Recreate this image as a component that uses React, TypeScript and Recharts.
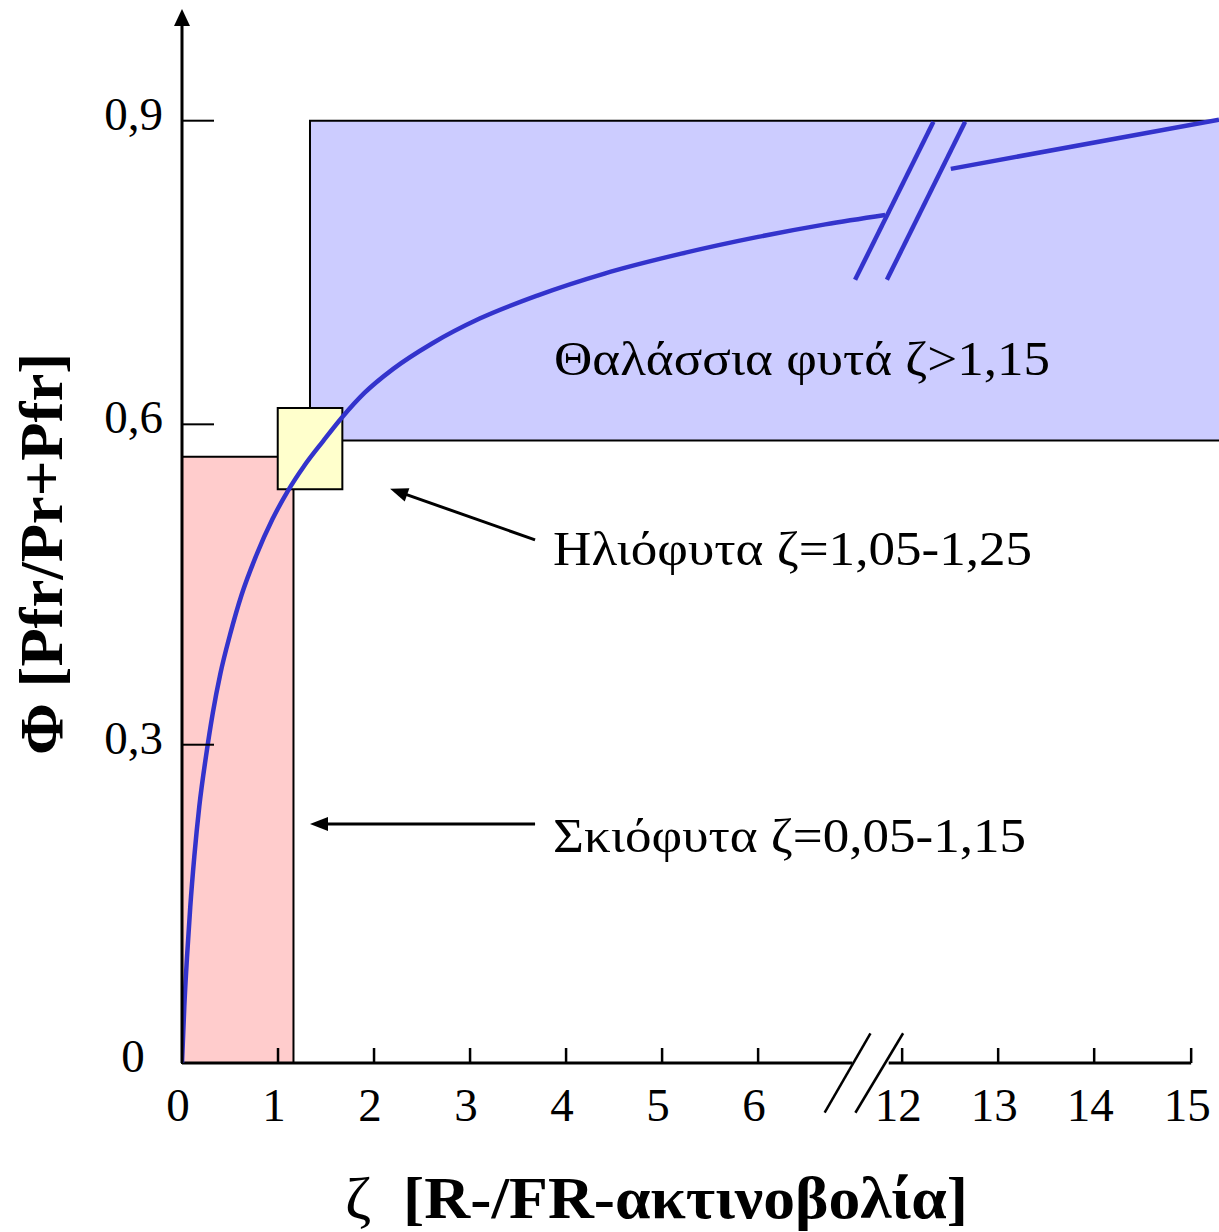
import React from 'react';
import {
  ComposedChart,
  Line,
  XAxis,
  YAxis,
  ReferenceArea,
  ReferenceLine,
  ReferenceDot,
} from 'recharts';

// Horizontal drawing units: 0..6 -> ζ 0..6, then an axis break, 7.5..10.51 -> ζ 12..15
const xTickValues = [0, 1, 2, 3, 4, 5, 6, 7.5, 8.5, 9.5, 10.51];
const xTickLabels = ['0', '1', '2', '3', '4', '5', '6', '12', '13', '14', '15'];
const yTickValues = [0, 0.304, 0.61, 0.9];
const yTickLabels = ['0', '0,3', '0,6', '0,9'];

// Φ curve, left of the break
const curveX = [0, 0.024, 0.052, 0.086, 0.128, 0.18, 0.25, 0.32, 0.4, 0.5, 0.62, 0.77, 0.94, 1.1, 1.27, 1.47, 1.67, 1.9, 2.2, 2.6, 3.1, 3.7, 4.4, 5.2, 6.0, 6.7, 7.323];
const curveY = [0, 0.054, 0.101, 0.149, 0.197, 0.245, 0.293, 0.334, 0.372, 0.409, 0.447, 0.484, 0.519, 0.546, 0.57, 0.594, 0.617, 0.64, 0.663, 0.687, 0.711, 0.733, 0.754, 0.773, 0.789, 0.801, 0.81];
// Φ curve, right of the break
const curveRightX = [8.007, 10.8];
const curveRightY = [0.854, 0.901];
// break marks on the curve
const breakMark1X = [7.01, 7.826];
const breakMark1Y = [0.748, 0.899];
const breakMark2X = [7.341, 8.156];
const breakMark2Y = [0.748, 0.899];

// Shaded ranges
const shadeRange = { x1: 0, x2: 1.161, y1: 0, y2: 0.579 };
const sunRange = { x1: 0.997, x2: 1.67, y1: 0.548, y2: 0.6255 };
const seaRange = { x1: 1.333, x2: 11, y1: 0.5945, y2: 0.9 };

// Broken x-axis line pieces and break slashes
const xAxisPieceStart = [0, 7.36];
const xAxisPieceEnd = [6.98, 10.51];
const axisSlashX1 = [6.693, 7.013];
const axisSlashX2 = [7.17, 7.51];
const axisSlashY1 = -0.0475;
const axisSlashY2 = 0.0284;

// Annotations
const annTexts = ['Θαλάσσια φυτά ζ>1,15', 'Ηλιόφυτα ζ=1,05-1,25', 'Σκιόφυτα ζ=0,05-1,15'];
const annTextX = [3.875, 3.865, 3.865];
const annTextY = [0.657, 0.4758, 0.2016];
const annTextWidth = [496, 479, 473];
const arrowFrom = [null, { x: 3.677, y: 0.4997 }, { x: 3.677, y: 0.2283 }];
const arrowTo = [null, { x: 2.167, y: 0.5484 }, { x: 1.333, y: 0.2283 }];

const zip = (xs: number[], ys: number[]) => xs.map((x, i) => ({ x, y: ys[i] }));

const FONT = '"Liberation Serif", "Times New Roman", serif';
const BLUE = '#3333CC';

const XTick = (props: any) => {
  const { x, y, payload } = props;
  const idx = xTickValues.indexOf(payload.value);
  return (
    <g>
      {payload.value !== 0 && (
        <line x1={x} y1={y} x2={x} y2={y - 15} stroke="#000" strokeWidth={2.5} />
      )}
      <text x={x - 4} y={y + 58} textAnchor="middle" fontFamily={FONT} fontSize={47} fill="#000">
        {xTickLabels[idx]}
      </text>
    </g>
  );
};

const YTick = (props: any) => {
  const { x, y, payload } = props;
  const idx = yTickValues.indexOf(payload.value);
  const isZero = payload.value === 0;
  return (
    <g>
      {!isZero && <line x1={x} y1={y} x2={x + 32} y2={y} stroke="#000" strokeWidth={2} />}
      <text
        x={isZero ? x - 49 : x - 19}
        y={y + 9}
        textAnchor={isZero ? 'middle' : 'end'}
        fontFamily={FONT}
        fontSize={47}
        fill="#000"
      >
        {yTickLabels[idx]}
      </text>
    </g>
  );
};

const Arrow = (props: any) => {
  const { x1, y1, x2, y2 } = props;
  const dx = x2 - x1;
  const dy = y2 - y1;
  const len = Math.sqrt(dx * dx + dy * dy) || 1;
  const ux = dx / len;
  const uy = dy / len;
  const hl = 18;
  const hw = 7;
  const bx = x2 - ux * hl;
  const by = y2 - uy * hl;
  const nx = -uy;
  const ny = ux;
  return (
    <g>
      <line x1={x1} y1={y1} x2={bx + ux * 2} y2={by + uy * 2} stroke="#000" strokeWidth={3} />
      <polygon
        points={`${x2},${y2} ${bx + nx * hw},${by + ny * hw} ${bx - nx * hw},${by - ny * hw}`}
        fill="#000"
      />
    </g>
  );
};

const XTitle = () => (
  <text
    x={345}
    y={1218}
    textAnchor="start"
    textLength={623}
    lengthAdjust="spacingAndGlyphs"
    fontFamily={FONT}
    fontSize={60}
    fontWeight="bold"
    fill="#000"
  >
    <tspan fontWeight="normal">ζ</tspan>
    {'\u00a0\u00a0[R-/FR-ακτινοβολία]'}
  </text>
);

const YTitle = () => (
  <text
    x={62}
    y={554}
    transform="rotate(-90, 62, 554)"
    textAnchor="middle"
    textLength={402}
    lengthAdjust="spacingAndGlyphs"
    fontFamily={FONT}
    fontSize={62}
    fontWeight="bold"
    fill="#000"
  >
    Φ [Pfr/Pr+Pfr]
  </text>
);

export default function App() {
  const curve = zip(curveX, curveY);
  const curveRight = zip(curveRightX, curveRightY);
  const mark1 = zip(breakMark1X, breakMark1Y);
  const mark2 = zip(breakMark2X, breakMark2Y);

  return (
    <div style={{ position: 'absolute', left: 0, top: 0, width: 1219, height: 1232, background: '#fff' }}>
      <ComposedChart
        width={1219}
        height={1232}
        margin={{ top: 16, right: 0, bottom: 139, left: 122 }}
      >
        <XAxis
          type="number"
          dataKey="x"
          domain={[0, 10.8]}
          allowDataOverflow
          ticks={xTickValues}
          interval={0}
          axisLine={false}
          tickLine={false}
          tickSize={0}
          tickMargin={0}
          height={30}
          tick={<XTick />}
          label={<XTitle />}
        />
        <YAxis
          type="number"
          dataKey="y"
          domain={[0, 1]}
          allowDataOverflow
          ticks={yTickValues}
          interval={0}
          width={60}
          axisLine={{ stroke: '#000', strokeWidth: 3 }}
          tickLine={false}
          tickSize={0}
          tickMargin={0}
          tick={<YTick />}
          label={<YTitle />}
        />

        <ReferenceArea {...shadeRange} fill="#FFCCCC" fillOpacity={1} stroke="#000" strokeWidth={2} ifOverflow="visible" />
        <ReferenceArea {...seaRange} fill="#CCCCFF" fillOpacity={1} stroke="#000" strokeWidth={2} ifOverflow="visible" />
        <ReferenceArea {...sunRange} fill="#FFFFCC" fillOpacity={1} stroke="#000" strokeWidth={2} ifOverflow="visible" />

        {xAxisPieceStart.map((s, i) => (
          <ReferenceLine
            key={`ax${i}`}
            segment={[{ x: s, y: 0 }, { x: xAxisPieceEnd[i], y: 0 }]}
            stroke="#000"
            strokeWidth={3}
            ifOverflow="visible"
          />
        ))}
        {axisSlashX1.map((s, i) => (
          <ReferenceLine
            key={`sl${i}`}
            segment={[{ x: s, y: axisSlashY1 }, { x: axisSlashX2[i], y: axisSlashY2 }]}
            stroke="#000"
            strokeWidth={2.5}
            ifOverflow="visible"
          />
        ))}

        {annTexts.map((t, i) =>
          arrowFrom[i] ? (
            <ReferenceLine
              key={`ar${i}`}
              segment={[arrowFrom[i] as any, arrowTo[i] as any]}
              ifOverflow="visible"
              shape={(p: any) => <Arrow {...p} />}
            />
          ) : null
        )}
        {annTexts.map((t, i) => (
          <ReferenceDot
            key={`tx${i}`}
            x={annTextX[i]}
            y={annTextY[i]}
            r={0}
            ifOverflow="visible"
            shape={(p: any) => (
              <text
                x={p.cx}
                y={p.cy}
                textLength={annTextWidth[i]}
                lengthAdjust="spacingAndGlyphs"
                fontFamily={FONT}
                fontSize={48}
                fill="#000"
              >
                {t}
              </text>
            )}
          />
        ))}

        <ReferenceDot
          x={0}
          y={1}
          r={0}
          ifOverflow="visible"
          shape={(p: any) => (
            <polygon points={`${p.cx},${p.cy - 7} ${p.cx - 8},${p.cy + 10} ${p.cx + 8},${p.cy + 10}`} fill="#000" />
          )}
        />

        <Line data={curve} dataKey="y" type="monotone" stroke={BLUE} strokeWidth={4.5} dot={false} activeDot={false} isAnimationActive={false} />
        <Line data={curveRight} dataKey="y" type="linear" stroke={BLUE} strokeWidth={4.5} dot={false} activeDot={false} isAnimationActive={false} />
        <Line data={mark1} dataKey="y" type="linear" stroke={BLUE} strokeWidth={4.5} dot={false} activeDot={false} isAnimationActive={false} />
        <Line data={mark2} dataKey="y" type="linear" stroke={BLUE} strokeWidth={4.5} dot={false} activeDot={false} isAnimationActive={false} />
      </ComposedChart>
    </div>
  );
}
